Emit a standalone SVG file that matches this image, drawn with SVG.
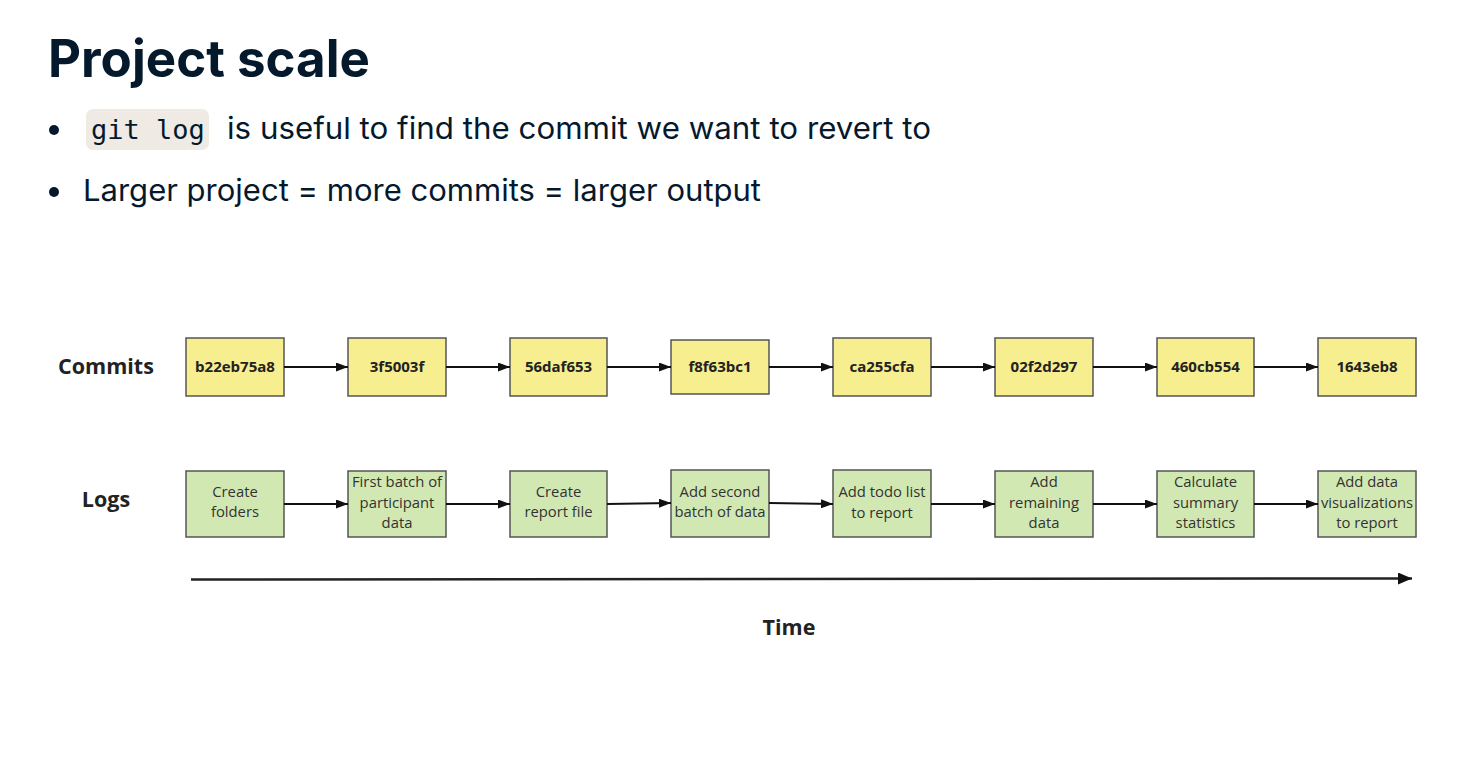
<svg xmlns="http://www.w3.org/2000/svg" width="1480" height="760" viewBox="0 0 1480 760">
<style>
.title{font-family:Inter,"Noto Sans",sans-serif;font-weight:700;font-size:52px;fill:#05192D}
.body{font-family:Inter,"Noto Sans",sans-serif;font-size:30px;fill:#05192D}
.code{font-family:"DejaVu Sans Mono","Liberation Mono",monospace;font-size:27px;fill:#05192D}
.commit rect{fill:#F7EE8F;stroke:#555;stroke-width:1.5}
.log rect{fill:#D2E8B2;stroke:#555;stroke-width:1.5}
.ctext{font-family:"Open Sans","Noto Sans",sans-serif;font-weight:700;font-size:15px;fill:#222;text-anchor:middle}
.ltext{font-family:"Open Sans","Noto Sans",sans-serif;font-size:14.8px;fill:#333;text-anchor:middle}
.rowlabel{font-family:"Open Sans","Noto Sans",sans-serif;font-weight:700;font-size:21.5px;fill:#222;text-anchor:middle}
.conn line{stroke:#111;stroke-width:1.8;marker-end:url(#ah)}
</style>
<defs>
<marker id="ah" viewBox="0 0 12 9" refX="12" refY="4.5" markerWidth="12" markerHeight="9" markerUnits="userSpaceOnUse" orient="auto">
<path d="M0,0 L12,4.5 L0,9 Z" fill="#111"/>
</marker>
<marker id="ah2" viewBox="0 0 14 12" refX="14" refY="6" markerWidth="14" markerHeight="12" markerUnits="userSpaceOnUse" orient="auto">
<path d="M0,0 L14,6 L0,12 Z" fill="#111"/>
</marker>
</defs>
<rect width="1480" height="760" fill="#fff"/>

<g id="header">
<text class="title" x="48" y="77" textLength="322" lengthAdjust="spacingAndGlyphs">Project scale</text>
<circle cx="54" cy="130" r="5" fill="#05192D"/>
<rect x="86" y="109" width="123" height="41" rx="7" fill="#EFEBE4"/>
<text class="code" x="91" y="139">git log</text>
<text class="body" x="227" y="139" textLength="704" lengthAdjust="spacingAndGlyphs">is useful to find the commit we want to revert to</text>
<circle cx="54" cy="192" r="5" fill="#05192D"/>
<text class="body" x="83" y="201" textLength="678" lengthAdjust="spacingAndGlyphs">Larger project = more commits = larger output</text>
</g>

<g id="row-labels">
<text class="rowlabel" x="106" y="374">Commits</text>
<text class="rowlabel" x="106" y="507">Logs</text>
</g>

<g id="commits">
<g id="c1" class="commit"><rect x="186" y="338" width="98" height="58"/><text class="ctext" x="235" y="372">b22eb75a8</text></g>
<g id="c2" class="commit"><rect x="348" y="338" width="98" height="58"/><text class="ctext" x="397" y="372">3f5003f</text></g>
<g id="c3" class="commit"><rect x="510" y="338" width="97" height="58"/><text class="ctext" x="558.5" y="372">56daf653</text></g>
<g id="c4" class="commit"><rect x="671" y="340" width="98" height="54"/><text class="ctext" x="720" y="372">f8f63bc1</text></g>
<g id="c5" class="commit"><rect x="833" y="338" width="98" height="58"/><text class="ctext" x="882" y="372">ca255cfa</text></g>
<g id="c6" class="commit"><rect x="995" y="338" width="98" height="58"/><text class="ctext" x="1044" y="372">02f2d297</text></g>
<g id="c7" class="commit"><rect x="1157" y="338" width="97" height="58"/><text class="ctext" x="1205.5" y="372">460cb554</text></g>
<g id="c8" class="commit"><rect x="1318" y="338" width="98" height="58"/><text class="ctext" x="1367" y="372">1643eb8</text></g>
</g>

<g id="logs">
<g id="l1" class="log"><rect x="186" y="471" width="98" height="66"/><text class="ltext" x="235" y="497">Create</text><text class="ltext" x="235" y="517">folders</text></g>
<g id="l2" class="log"><rect x="348" y="471" width="98" height="66"/><text class="ltext" x="397" y="487">First batch of</text><text class="ltext" x="397" y="507.5">participant</text><text class="ltext" x="397" y="528">data</text></g>
<g id="l3" class="log"><rect x="510" y="471" width="97" height="66"/><text class="ltext" x="558.5" y="497">Create</text><text class="ltext" x="558.5" y="517">report file</text></g>
<g id="l4" class="log"><rect x="671" y="470" width="98" height="67"/><text class="ltext" x="720" y="497">Add second</text><text class="ltext" x="720" y="517">batch of data</text></g>
<g id="l5" class="log"><rect x="833" y="470" width="98" height="67"/><text class="ltext" x="882" y="497">Add todo list</text><text class="ltext" x="882" y="518">to report</text></g>
<g id="l6" class="log"><rect x="995" y="471" width="98" height="66"/><text class="ltext" x="1044" y="487">Add</text><text class="ltext" x="1044" y="507.5">remaining</text><text class="ltext" x="1044" y="528">data</text></g>
<g id="l7" class="log"><rect x="1157" y="471" width="97" height="66"/><text class="ltext" x="1205.5" y="487">Calculate</text><text class="ltext" x="1205.5" y="507.5">summary</text><text class="ltext" x="1205.5" y="528">statistics</text></g>
<g id="l8" class="log"><rect x="1318" y="471" width="98" height="66"/><text class="ltext" x="1367" y="487">Add data</text><text class="ltext" x="1367" y="507.5">visualizations</text><text class="ltext" x="1367" y="528">to report</text></g>
</g>

<g id="connectors" class="conn">
<line x1="284" y1="367" x2="348" y2="367"/>
<line x1="446" y1="367" x2="510" y2="367"/>
<line x1="607" y1="367" x2="671" y2="367"/>
<line x1="769" y1="367" x2="833" y2="367"/>
<line x1="931" y1="367" x2="995" y2="367"/>
<line x1="1093" y1="367" x2="1157" y2="367"/>
<line x1="1254" y1="367" x2="1318" y2="367"/>
<line x1="284" y1="504" x2="348" y2="504"/>
<line x1="446" y1="504" x2="510" y2="504"/>
<line x1="607" y1="504" x2="671" y2="503"/>
<line x1="769" y1="503" x2="833" y2="504"/>
<line x1="931" y1="504" x2="995" y2="504"/>
<line x1="1093" y1="504" x2="1157" y2="504"/>
<line x1="1254" y1="504" x2="1318" y2="504"/>
</g>

<g id="time-axis">
<line x1="191" y1="579.5" x2="1412" y2="578.5" stroke="#222" stroke-width="2.5" marker-end="url(#ah2)"/>
<text class="rowlabel" x="789" y="635">Time</text>
</g>
</svg>
